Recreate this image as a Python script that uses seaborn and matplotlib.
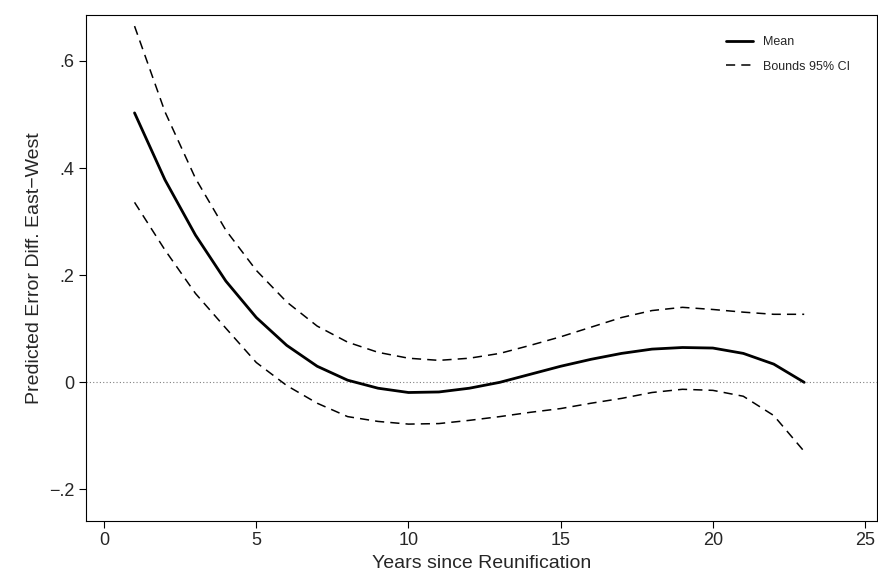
import seaborn as sns
import matplotlib.pyplot as plt
import pandas as pd

years = list(range(1, 24))
mean = [0.503, 0.378, 0.275, 0.189, 0.121, 0.069, 0.030, 0.004, -0.011, -0.019, -0.018, -0.011,
        0.000, 0.015, 0.030, 0.043, 0.054, 0.062, 0.065, 0.064, 0.054, 0.034, 0.000]
upper = [0.665, 0.505, 0.381, 0.284, 0.209, 0.150, 0.105, 0.075, 0.056, 0.045, 0.041, 0.045,
         0.054, 0.069, 0.085, 0.103, 0.121, 0.134, 0.140, 0.136, 0.131, 0.127, 0.127]
lower = [0.336, 0.247, 0.166, 0.101, 0.037, -0.006, -0.039, -0.064, -0.073, -0.078, -0.077, -0.071,
         -0.064, -0.056, -0.049, -0.039, -0.030, -0.019, -0.013, -0.015, -0.026, -0.062, -0.129]

df = pd.DataFrame({"Years": years, "Mean": mean, "Upper": upper, "Lower": lower})

sns.set_style("ticks")
plt.rcParams["font.family"] = ["Liberation Sans", "DejaVu Sans"]

fig, ax = plt.subplots(figsize=(8.79, 5.72), dpi=100)
fig.subplots_adjust(left=0.098, right=0.998, top=0.974, bottom=0.09)

ax.axhline(0, color="gray", lw=0.8, ls=(0, (1, 2)))
sns.lineplot(data=df, x="Years", y="Mean", color="black", lw=2, ax=ax, label="Mean")
sns.lineplot(data=df, x="Years", y="Upper", color="black", lw=1.1, ls=(0, (6, 4)), ax=ax,
             label="Bounds 95% CI")
sns.lineplot(data=df, x="Years", y="Lower", color="black", lw=1.1, ls=(0, (6, 4)), ax=ax)

ax.set_xlim(-0.59, 25.4)
ax.set_ylim(-0.258, 0.686)
ax.set_xticks([0, 5, 10, 15, 20, 25])
ax.set_yticks([-0.2, 0, 0.2, 0.4, 0.6])
ax.set_yticklabels(["\u2212.2", "0", ".2", ".4", ".6"])
ax.tick_params(labelsize=13, length=5, width=0.8, direction="out", color="black")
for s in ax.spines.values():
    s.set_color("black")
ax.set_xlabel("Years since Reunification", fontsize=14)
ax.set_ylabel("Predicted Error Diff. East\u2212West", fontsize=14)
ax.legend(loc="upper right", frameon=False, fontsize=9, handlelength=2.2,
          labelspacing=1.0, bbox_to_anchor=(0.98, 0.98))

plt.savefig("out.png")
